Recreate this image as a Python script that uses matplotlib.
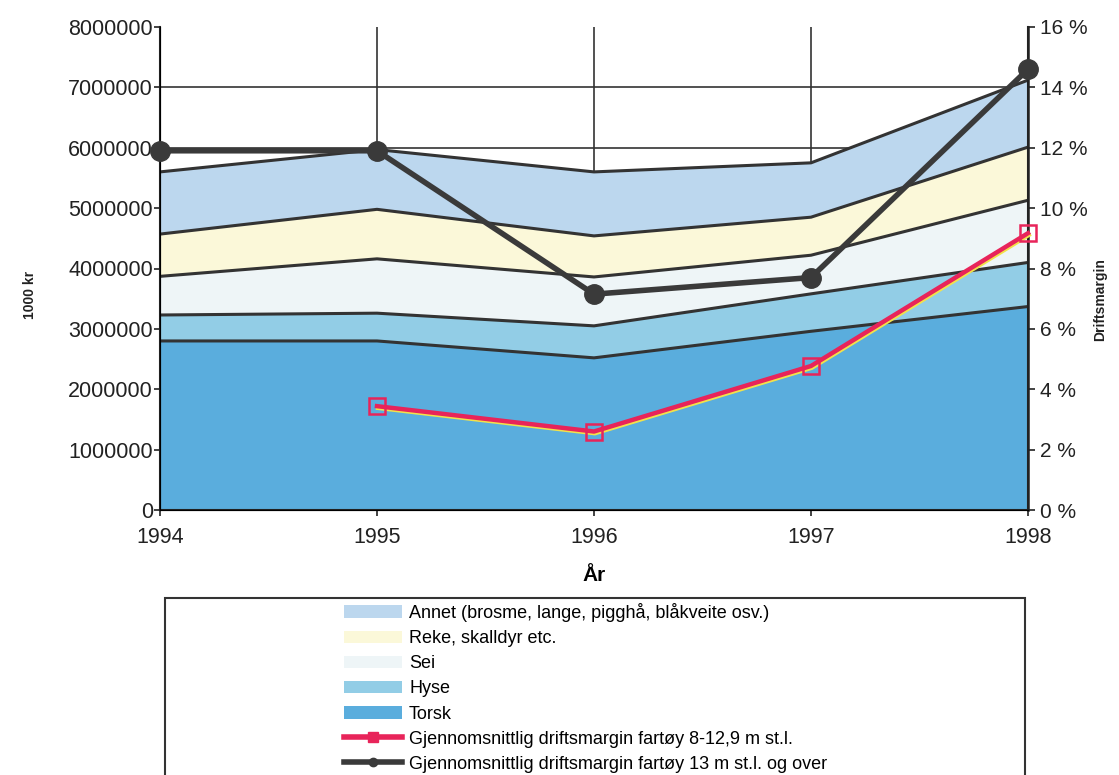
import matplotlib
matplotlib.use("Agg")
import matplotlib.pyplot as plt
import numpy as np
from matplotlib.patches import Rectangle, Patch
from matplotlib.lines import Line2D

plt.rcParams['font.family'] = ['Liberation Sans', 'DejaVu Sans']

years = [1994, 1995, 1996, 1997, 1998]
torsk = [2800000, 2800000, 2520000, 2960000, 3370000]
hyse = [430000, 460000, 530000, 620000, 730000]
sei = [640000, 900000, 810000, 640000, 1030000]
reke = [700000, 820000, 680000, 630000, 880000]
annet = [1030000, 990000, 1060000, 900000, 1110000]
margin_small = [np.nan, 3.44, 2.6, 4.77, 9.17]
margin_large = [11.9, 11.9, 7.15, 7.7, 14.6]

labels = ["Torsk", "Hyse", "Sei", "Reke, skalldyr etc.",
          "Annet (brosme, lange, pigghå, blåkveite osv.)"]
colors = ["#5AADDD", "#92CDE6", "#EEF5F7", "#FBF8D9", "#BCD7EE"]
lab_small = "Gjennomsnittlig driftsmargin fartøy 8-12,9 m st.l."
lab_large = "Gjennomsnittlig driftsmargin fartøy 13 m st.l. og over"

fig = plt.figure(figsize=(11.19, 7.75), dpi=100)
ax = fig.add_axes([160/1119, 1-510/775, (1028-160)/1119, (510-27)/775])

# grid behind areas
for v in range(1000000, 8000000, 1000000):
    ax.axhline(v, color="#333333", lw=1.2, zorder=0)
for yr in years[1:-1]:
    ax.axvline(yr, color="#333333", lw=1.2, zorder=0)

series = [torsk, hyse, sei, reke, annet]
cum = np.zeros(len(years))
for vals, c in zip(series, colors):
    top = cum + np.array(vals)
    ax.fill_between(years, cum, top, color=c, lw=0, zorder=1)
    ax.plot(years, top, color="#333333", lw=2.2, zorder=2)
    cum = top

ax.set_xlim(1994, 1998)
ax.set_ylim(0, 8000000)
ax.set_yticks(range(0, 8000001, 1000000))
ax.set_yticklabels([str(v) for v in range(0, 8000001, 1000000)])
ax.set_xticks(years)
ax.tick_params(axis='both', labelsize=15.5, length=4, width=1.2, colors="#222222")
ax.tick_params(axis='y', pad=1)
ax.tick_params(axis='x', pad=8)
ax.spines['top'].set_visible(False)
for s in ['left', 'right', 'bottom']:
    ax.spines[s].set_linewidth(1.5)
    ax.spines[s].set_color("#222222")
ax.set_xlabel("År", fontsize=15, fontweight='bold', labelpad=13)

ax2 = ax.twinx()
ax2.set_ylim(0, 16)
ax2.set_yticks(range(0, 17, 2))
ax2.set_yticklabels([f"{v} %" for v in range(0, 17, 2)])
ax2.tick_params(axis='y', labelsize=15, length=5, width=1.2, colors="#222222")
ax2.spines['top'].set_visible(False)
ax2.spines['right'].set_linewidth(1.8)
ax2.spines['right'].set_color("#222222")

yrs = np.array(years, dtype=float)
ax2.plot(yrs + 0.004, np.array(margin_small) - 0.06, color="#F2E24A", lw=3, zorder=3, clip_on=False)
ax2.plot(years, margin_small, color="#E8245A", lw=3.2, marker='s', ms=11,
         mfc='none', mec="#E8245A", mew=1.8, zorder=4, clip_on=False)
ax2.plot(years, margin_large, color="#3A3A3A", lw=4, marker='o', ms=14,
         mfc="#3A3A3A", mec="#3A3A3A", zorder=5, clip_on=False)

fig.text(30/1119, 1-295/775, "1000 kr", rotation=90, fontsize=10, fontweight='bold',
         ha='center', va='center', color="#222222")
fig.text(1100/1119, 1-300/775, "Driftsmargin", rotation=90, fontsize=10, fontweight='bold',
         ha='center', va='center', color="#222222")

# legend box
fig.patches.append(Rectangle((165/1119, -0.02), (1025-165)/1119, (775-598)/775 + 0.02,
                             transform=fig.transFigure, fill=False, ec="#333333", lw=1.5))
handles = [Patch(fc=colors[i], ec='none') for i in [4, 3, 2, 1, 0]]
handles += [Line2D([], [], color="#E8245A", lw=4, marker='s', ms=7, mfc="#E8245A", mec="#E8245A"),
            Line2D([], [], color="#3A3A3A", lw=4, marker='o', ms=6, mfc="#3A3A3A")]
leg_labels = [labels[i] for i in [4, 3, 2, 1, 0]] + [lab_small, lab_large]
leg = fig.legend(handles, leg_labels, loc='upper left',
                 bbox_to_anchor=(335/1119, 1-594/775), frameon=False,
                 fontsize=13, handlelength=3.2, handleheight=0.7, labelspacing=0.45,
                 handletextpad=0.4, borderpad=0.0)

fig.savefig("out.png", dpi=100)
